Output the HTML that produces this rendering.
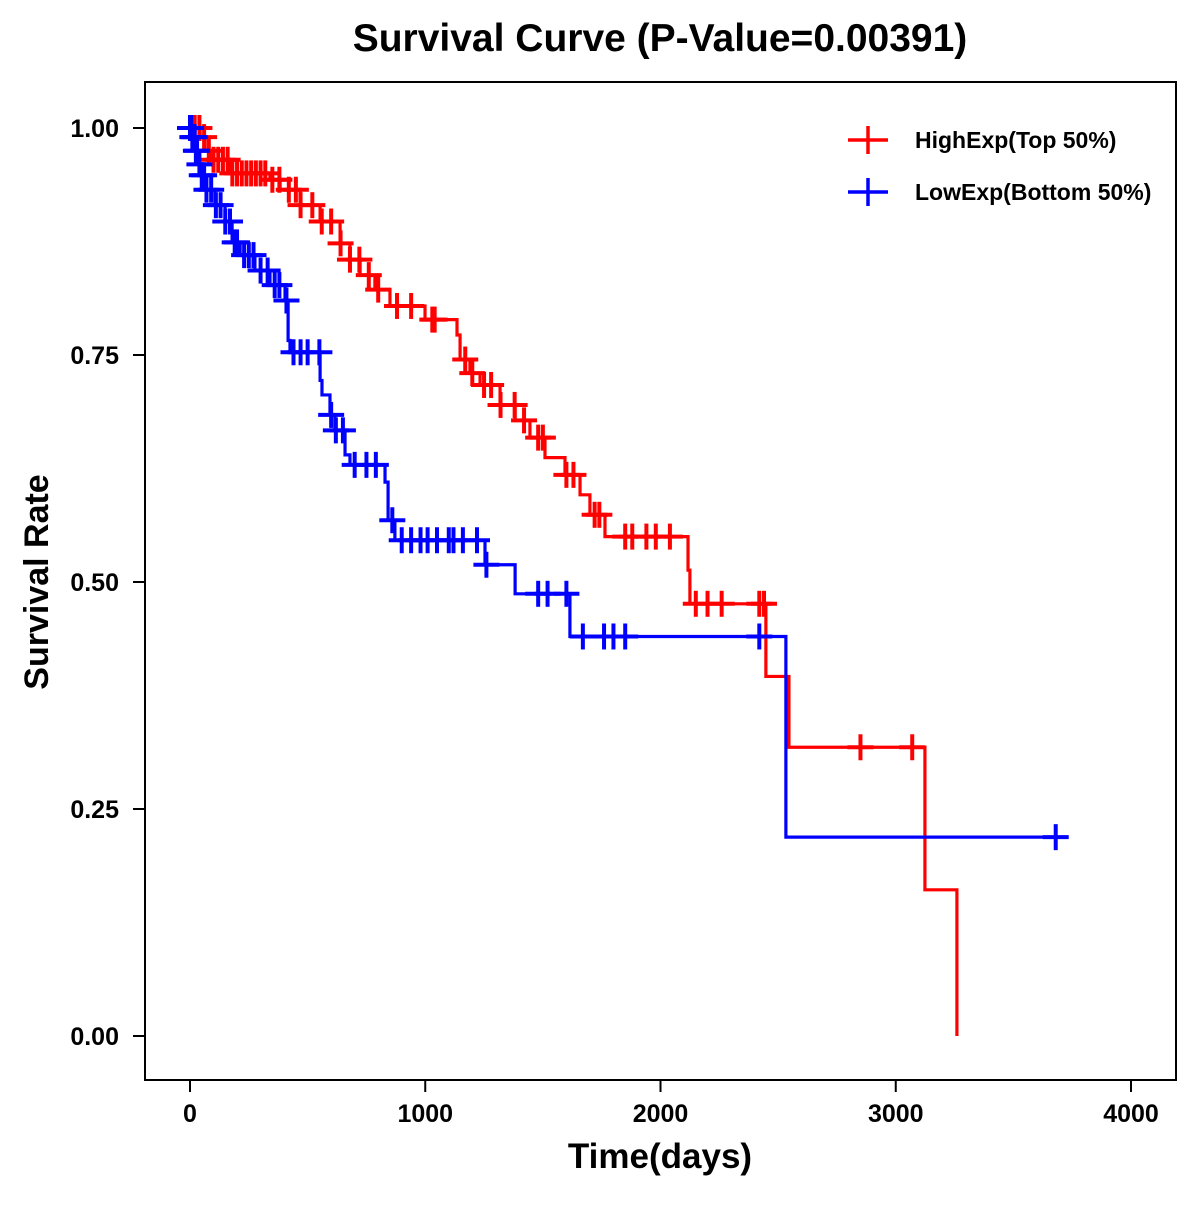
<!DOCTYPE html>
<html><head><meta charset="utf-8"><style>
body{margin:0;background:#fff;}
svg text{font-family:"Liberation Sans",Arial,sans-serif;font-weight:bold;}
</style></head><body>
<svg id="chart" width="1200" height="1200" viewBox="0 0 1200 1200">
<rect x="0" y="0" width="1200" height="1200" fill="#fff"/>
<text x="660" y="51" font-size="39" text-anchor="middle">Survival Curve (P-Value=0.00391)</text>
<rect x="145" y="82" width="1031" height="998" fill="none" stroke="#000" stroke-width="2"/>
<g id="axes"></g>
<g id="series"></g>
<text x="660" y="1168" font-size="35" text-anchor="middle">Time(days)</text>
<text transform="translate(48,582) rotate(-90)" font-size="34" text-anchor="middle">Survival Rate</text>
<g>
<g>
<line x1="848" y1="140" x2="888" y2="140" stroke="#f00" stroke-width="3.5"/><line x1="868" y1="126" x2="868" y2="154" stroke="#f00" stroke-width="3.5"/>
<text x="915" y="148" font-size="23">HighExp(Top 50%)</text></g>
<g>
<line x1="848" y1="192" x2="888" y2="192" stroke="#00f" stroke-width="3.5"/><line x1="868" y1="178" x2="868" y2="206" stroke="#00f" stroke-width="3.5"/>
<text x="915" y="200" font-size="23">LowExp(Bottom 50%)</text></g>
</g>
</svg>
<script>
const xTicks=[0,1000,2000,3000,4000];
const yTicks=[0,0.25,0.5,0.75,1.0];
const yTickLabels=["0.00","0.25","0.50","0.75","1.00"];
const highTimes=[0,43,64,85,170,340,383,468,553,638,680,723,786,850,999,1135,1148,1190,1233,1318,1382,1445,1509,1594,1658,1700,1764,2117,2125,2448,2546,3124,3260];
const highSurv=[1,0.99,0.975,0.965,0.95,0.943,0.932,0.915,0.897,0.873,0.855,0.838,0.822,0.804,0.789,0.772,0.745,0.73,0.717,0.695,0.678,0.659,0.637,0.618,0.596,0.574,0.55,0.513,0.476,0.396,0.318,0.161,0];
const highEnd=3260;
const highCensor=[20,40,60,80,100,120,140,160,180,200,220,240,260,280,300,320,350,380,420,450,470,520,560,600,640,680,720,760,800,880,940,1030,1040,1170,1200,1250,1280,1320,1380,1420,1480,1500,1600,1630,1720,1740,1850,1880,1940,1980,2040,2150,2200,2260,2420,2440,2850,3070];
const lowTimes=[0,8,21,34,43,64,106,149,179,213,276,340,404,417,425,553,561,595,616,659,680,829,842,871,1254,1382,1615,2533];
const lowSurv=[1,0.99,0.975,0.96,0.948,0.932,0.915,0.897,0.874,0.86,0.843,0.827,0.81,0.766,0.753,0.722,0.706,0.684,0.667,0.64,0.629,0.61,0.568,0.546,0.519,0.487,0.44,0.219];
const lowEnd=3710;
const lowCensor=[0,5,10,15,20,25,30,40,50,60,70,90,110,130,150,170,190,200,230,250,270,300,330,360,380,410,440,470,500,550,600,620,650,700,750,790,860,900,940,980,1010,1050,1100,1120,1160,1220,1260,1480,1520,1600,1670,1760,1800,1850,2420,3680];

const X=t=>190+t*0.23525;
const Y=s=>1036-s*908;
const NS="http://www.w3.org/2000/svg";
function mk(tag,attrs,parent){const e=document.createElementNS(NS,tag);for(const k in attrs)e.setAttribute(k,attrs[k]);parent.appendChild(e);return e;}
const axes=document.getElementById('axes');
xTicks.forEach(v=>{
  const l=mk('line',{x1:X(v),x2:X(v),y1:1080,y2:1092,stroke:'#000','stroke-width':2},axes);
  
  
  const t=mk('text',{x:X(v),y:1122,'font-size':25,'text-anchor':'middle'},axes);t.textContent=v;
  
  
});
yTicks.forEach((v,i)=>{
  const l=mk('line',{x1:133,x2:145,y1:Y(v),y2:Y(v),stroke:'#000','stroke-width':2},axes);
  
  
  const t=mk('text',{x:119,y:Y(v)+9,'font-size':25,'text-anchor':'end'},axes);t.textContent=yTickLabels[i];
  
  
});
const series=document.getElementById('series');
function survAt(times,surv,t){let s=surv[0];for(let i=0;i<times.length;i++){if(times[i]<=t)s=surv[i];}return s;}
function draw(times,surv,end,cens,color,name){
  let d=`M${X(times[0])},${Y(surv[0])}`;
  for(let i=1;i<times.length;i++){d+=` H${X(times[i])} V${Y(surv[i])}`;}
  if(end>times[times.length-1])d+=` H${X(end)}`;
  const p=mk('path',{d:d,fill:'none',stroke:color,'stroke-width':3.2},series);
  
  
  cens.forEach(c=>{
    const x=X(c),y=Y(survAt(times,surv,c));
    const g=mk('g',{},series);
    
    
    mk('line',{x1:x-13,x2:x+13,y1:y,y2:y,stroke:color,'stroke-width':4},g);
    mk('line',{x1:x,x2:x,y1:y-13,y2:y+13,stroke:color,'stroke-width':4},g);
  });
}
draw(highTimes,highSurv,highEnd,highCensor,'#f00','high-exp');
draw(lowTimes,lowSurv,lowEnd,lowCensor,'#00f','low-exp');
</script>
</body></html>
